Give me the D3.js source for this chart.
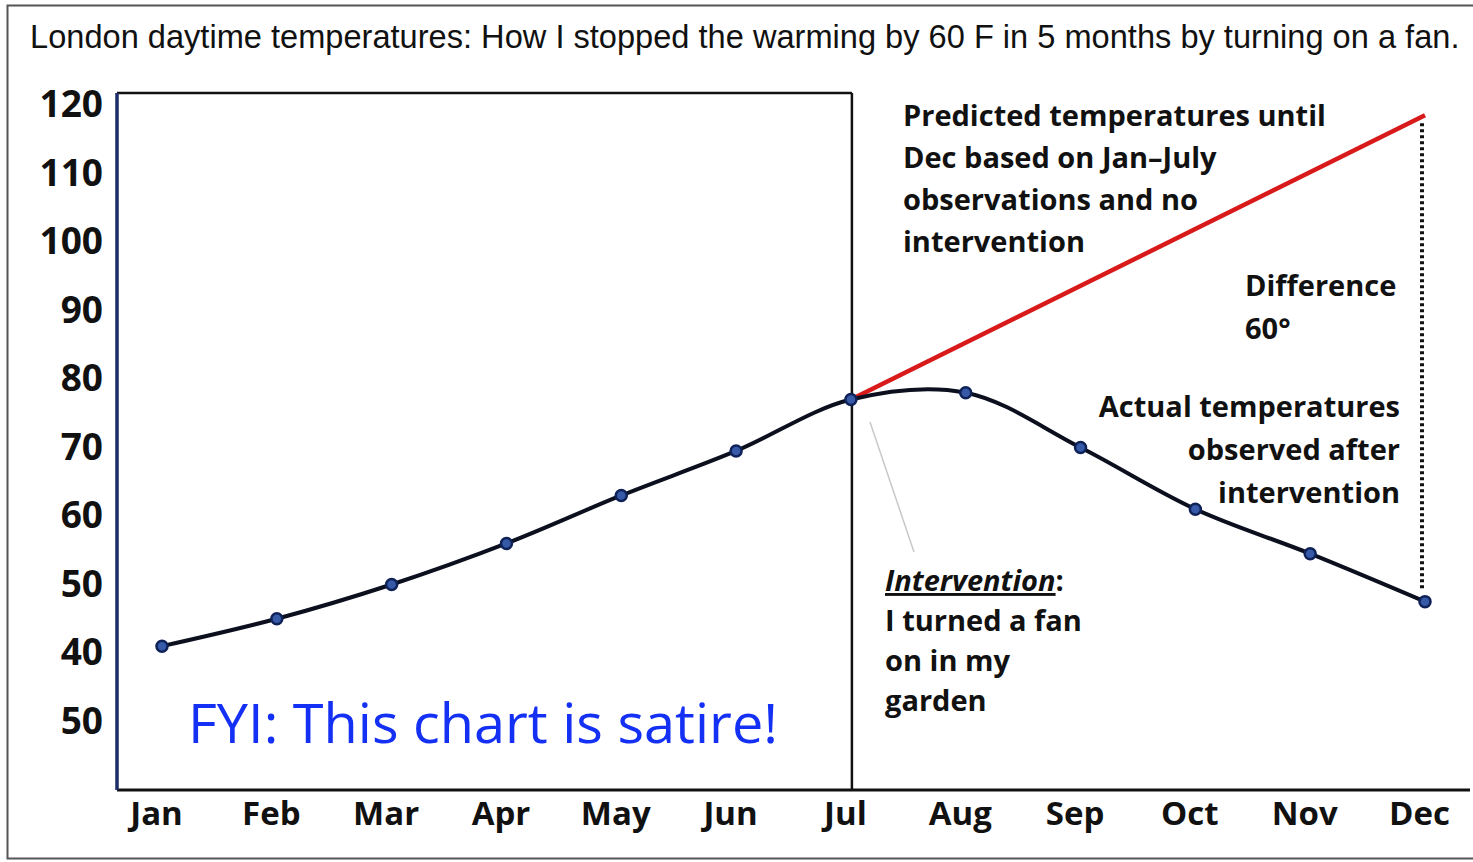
<!DOCTYPE html>
<html>
<head>
<meta charset="utf-8">
<script src="https://cdn.jsdelivr.net/npm/d3@7"></script>
<style>
  body { margin: 0; background: #fff; }
  svg { display: block; }
</style>
</head>
<body>
<div id="chart"></div>
<script>
// chart data
var months = ["Jan", "Feb", "Mar", "Apr", "May", "Jun", "Jul", "Aug", "Sep", "Oct", "Nov", "Dec"];
var actualTemps = [41, 45, 50, 56, 63, 69.5, 77, 78, 70, 61, 54.5, 47.5];
var predictedMonths = ["Jul", "Dec"];
var predictedTemps = [77, 118.5];
var tickValues = [120, 110, 100, 90, 80, 70, 60, 50, 40, 30];
var tickLabels = ["120", "110", "100", "90", "80", "70", "60", "50", "40", "50"];

var titleText = "London daytime temperatures: How I stopped the warming by 60 F in 5 months by turning on a fan.";
var predictedNote = ["Predicted temperatures until", "Dec based on Jan\u2013July", "observations and no", "intervention"];
var diffNote = ["Difference", "60\u00b0"];
var actualNote = ["Actual temperatures", "observed after", "intervention"];
var fanNote = ["I turned a fan", "on in my", "garden"];

var width = 1473;
var height = 862;

var svg = d3
  .select("#chart")
  .append("svg")
  .attr("width", width)
  .attr("height", height);

// outer frame
svg
  .append("rect")
  .attr("x", 7.5)
  .attr("y", 5.5)
  .attr("width", width + 10)
  .attr("height", height - 9)
  .style("fill", "none")
  .style("stroke", "#555")
  .style("stroke-width", 2);

// title, squeezed horizontally to fit like the original
var titleG = svg.append("g");
var title = titleG
  .append("text")
  .attr("x", 0)
  .attr("y", 0)
  .style("font-family", "'Liberation Sans', Arial, sans-serif")
  .style("font-size", "34px")
  .style("fill", "#111")
  .text(titleText);
var titleLen = title.node().getComputedTextLength();
titleG.attr("transform", "translate(30,48) scale(" + 1430 / titleLen + ",1)");

// scales
var x = d3.scalePoint().domain(months).range([162, 1425]);
var y = d3.scaleLinear().domain([40, 120]).range([653, 105]);

var plotLeft = 117;
var plotTop = 93;
var plotBottom = 790;
var boxRight = x("Jul") + 1;

// y axis labels
var yAxis = d3
  .axisLeft(y)
  .tickValues(tickValues)
  .tickSize(0)
  .tickPadding(14)
  .tickFormat(function (d, i) {
    return tickLabels[i];
  });

var gy = svg
  .append("g")
  .attr("transform", "translate(" + plotLeft + ",0)")
  .call(yAxis);
gy.select(".domain").remove();
gy.selectAll("text")
  .style("font-family", "'Open Sans', sans-serif")
  .style("font-weight", "700")
  .style("font-size", "37px")
  .style("fill", "#111");

// x axis labels
var xAxis = d3.axisBottom(x).tickSize(0).tickPadding(12);
var gx = svg
  .append("g")
  .attr("transform", "translate(-6," + plotBottom + ")")
  .call(xAxis);
gx.select(".domain").remove();
gx.selectAll("text")
  .style("font-family", "'Open Sans', sans-serif")
  .style("font-weight", "700")
  .style("font-size", "33px")
  .style("fill", "#111");

// box around observed months
svg
  .append("line")
  .attr("x1", plotLeft)
  .attr("x2", boxRight)
  .attr("y1", plotTop)
  .attr("y2", plotTop)
  .style("stroke", "#111")
  .style("stroke-width", 2.5);

svg
  .append("line")
  .attr("x1", boxRight)
  .attr("x2", boxRight)
  .attr("y1", plotTop)
  .attr("y2", plotBottom)
  .style("stroke", "#111")
  .style("stroke-width", 2.5);

svg
  .append("line")
  .attr("x1", plotLeft)
  .attr("x2", 1470)
  .attr("y1", plotBottom)
  .attr("y2", plotBottom)
  .style("stroke", "#111")
  .style("stroke-width", 3);

svg
  .append("line")
  .attr("x1", plotLeft)
  .attr("x2", plotLeft)
  .attr("y1", plotTop)
  .attr("y2", plotBottom)
  .style("stroke", "#1b2c66")
  .style("stroke-width", 3.5);

// satire note
svg
  .append("text")
  .attr("x", 188)
  .attr("y", 743)
  .attr("textLength", 590)
  .attr("lengthAdjust", "spacingAndGlyphs")
  .style("font-family", "'Open Sans', sans-serif")
  .style("font-size", "54px")
  .style("fill", "#1430f5")
  .text("FYI: This chart is satire!");

// pointer from intervention note
svg
  .append("line")
  .attr("x1", 870)
  .attr("y1", 422)
  .attr("x2", 914)
  .attr("y2", 552)
  .style("stroke", "#c8c8c8")
  .style("stroke-width", 1.5);

// predicted line
var predicted = predictedMonths.map(function (m, i) {
  return { month: m, temp: predictedTemps[i] };
});
svg
  .append("path")
  .datum(predicted)
  .attr(
    "d",
    d3
      .line()
      .x((d) => x(d.month))
      .y((d) => y(d.temp))
  )
  .style("fill", "none")
  .style("stroke", "#d91a1a")
  .style("stroke-width", 4.5);

// difference dotted line
svg
  .append("line")
  .attr("x1", x("Dec") - 3)
  .attr("x2", x("Dec") - 3)
  .attr("y1", y(predictedTemps[1]) + 8)
  .attr("y2", y(actualTemps[11]) - 12)
  .style("stroke", "#111")
  .style("stroke-width", 4)
  .style("stroke-dasharray", "3,3");

// actual line
var actual = months.map(function (m, i) {
  return { month: m, temp: actualTemps[i] };
});
svg
  .append("path")
  .datum(actual)
  .attr(
    "d",
    d3
      .line()
      .curve(d3.curveCatmullRom.alpha(0.5))
      .x((d) => x(d.month))
      .y((d) => y(d.temp))
  )
  .style("fill", "none")
  .style("stroke", "#0b0f1e")
  .style("stroke-width", 4);

svg
  .selectAll(".dot")
  .data(actual)
  .enter()
  .append("circle")
  .attr("class", "dot")
  .attr("cx", (d) => x(d.month))
  .attr("cy", (d) => y(d.temp))
  .attr("r", 5.5)
  .style("fill", "#3659a8")
  .style("stroke", "#0f2257")
  .style("stroke-width", 2.5);

// annotations
function noteLines(lines, x0, y0, step, anchor) {
  svg
    .append("g")
    .selectAll("text")
    .data(lines)
    .enter()
    .append("text")
    .attr("x", x0)
    .attr("y", (d, i) => y0 + i * step)
    .style("text-anchor", anchor)
    .style("font-family", "'Open Sans', sans-serif")
    .style("font-weight", "700")
    .style("font-size", "29px")
    .style("fill", "#111")
    .text((d) => d);
}

noteLines(predictedNote, 903, 126, 42, "start");
noteLines(diffNote, 1245, 296, 43, "start");
noteLines(actualNote, 1400, 417, 43, "end");

var fanTitle = svg
  .append("text")
  .attr("x", 885)
  .attr("y", 591)
  .style("font-family", "'Open Sans', sans-serif")
  .style("font-weight", "700")
  .style("font-size", "29px")
  .style("fill", "#111");
fanTitle
  .append("tspan")
  .style("font-style", "italic")
  .style("text-decoration", "underline")
  .text("Intervention");
fanTitle.append("tspan").text(":");

noteLines(fanNote, 885, 631, 40, "start");
</script>
</body>
</html>
